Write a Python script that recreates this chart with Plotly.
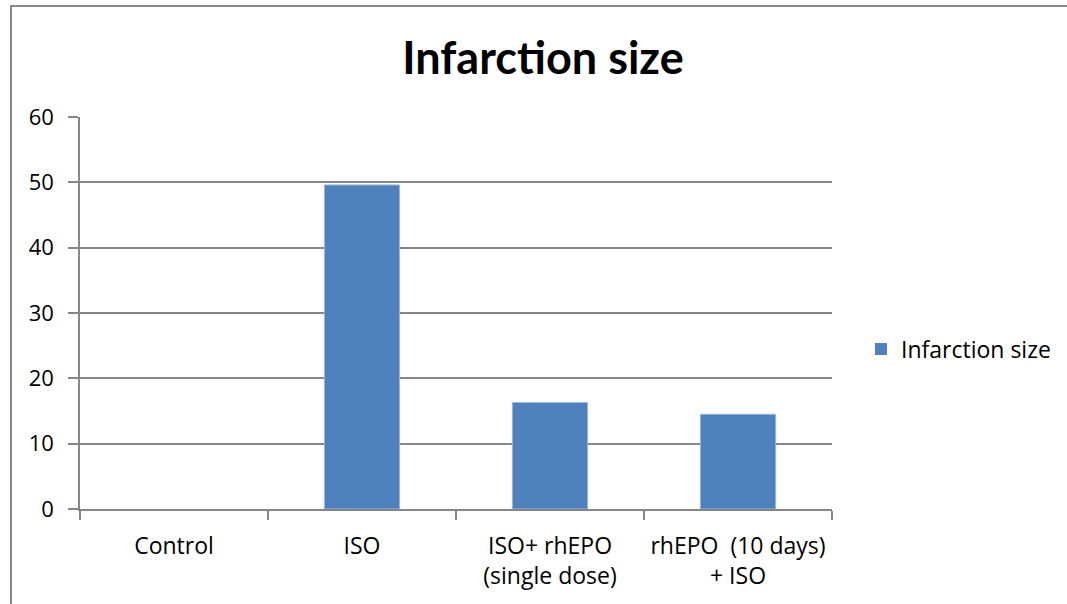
import plotly.graph_objects as go

categories = ["Control", "ISO", "ISO+ rhEPO<br>(single dose)", "rhEPO  (10 days)<br>+ ISO"]
values = [0, 49.6, 16.3, 14.5]
series_name = "Infarction size"
y_ticks = [0, 10, 20, 30, 40, 50, 60]

W, H = 1067, 604
L, R, T, B = 80, W - 832, 117, H - 509
pw, ph = W - L - R, H - T - B

def px_x(p):
    return (p - L) / pw

def px_y(p):
    return (H - B - p) / ph

TFONT = "Lato, Carlito, Calibri, sans-serif"
FONT = "Open Sans, sans-serif"
GRID = "#868686"

fig = go.Figure()
fig.add_trace(go.Bar(
    x=categories, y=values, name=series_name,
    marker=dict(color="#4F81BD",
                line=dict(color="#9bb8dc", width=[0 if v == 0 else 1 for v in values])),
    showlegend=True,
))

fig.update_layout(
    width=W, height=H,
    margin=dict(l=L, r=R, t=T, b=B, autoexpand=False),
    paper_bgcolor="white", plot_bgcolor="white",
    font=dict(family=FONT, size=22, color="#000000"),
    title=dict(text="<b>Infarction size</b>", x=543 / W, xanchor="center",
               y=1 - 58 / H, yanchor="middle",
               font=dict(family=TFONT, size=45, color="#000000")),
    bargap=0.6,
    showlegend=True,
    legend=dict(x=px_x(861), y=px_y(349), xanchor="left", yanchor="middle",
                font=dict(family=FONT, size=23), bgcolor="rgba(0,0,0,0)",
                itemwidth=30),
    xaxis=dict(
        type="category", showgrid=False, showline=True, linecolor=GRID, linewidth=1.5,
        ticks="outside", tickson="boundaries", ticklen=9, tickcolor=GRID, tickwidth=1.5,
        tickfont=dict(family=FONT, size=23), ticklabelstandoff=16, fixedrange=True,
    ),
    yaxis=dict(
        range=[0, 60], tickvals=y_ticks, showgrid=True, gridcolor=GRID, gridwidth=1.5,
        showline=True, linecolor=GRID, linewidth=1.5, zeroline=False,
        ticks="outside", ticklen=10, tickcolor=GRID, tickwidth=1.5,
        tickfont=dict(family=FONT, size=22), ticklabelstandoff=10,
    ),
    shapes=[dict(type="rect", xref="paper", yref="paper",
                 x0=px_x(11), x1=px_x(1080), y0=px_y(620), y1=px_y(6),
                 line=dict(color="#8a8a8a", width=2), fillcolor="rgba(0,0,0,0)", layer="below")],
)

fig.write_html("out.html", config={"displayModeBar": False},
               post_script="document.body.style.margin='0px';document.body.style.overflow='hidden';")
